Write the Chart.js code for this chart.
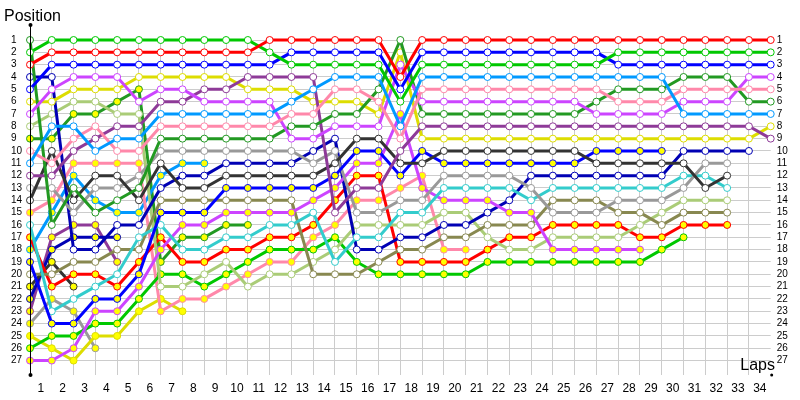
<!DOCTYPE html>
<html><head><meta charset="utf-8">
<script src="https://cdn.jsdelivr.net/npm/chart.js@4.4.1/dist/chart.umd.min.js"></script>
<style>html,body{margin:0;padding:0;background:#fff;}#wrap{width:800px;height:400px;position:relative;}</style>
</head><body><div id="wrap"><canvas id="c"></canvas></div>
<script>
// ---- data: tick labels ----
const lapLabels = [1,2,3,4,5,6,7,8,9,10,11,12,13,14,15,16,17,18,19,20,21,22,23,24,25,26,27,28,29,30,31,32,33,34];
const positions = [1,2,3,4,5,6,7,8,9,10,11,12,13,14,15,16,17,18,19,20,21,22,23,24,25,26,27];

// ---- data: position of each car at lap 0..34 (null = not running) ----
const R1  = [3,2,2,2,2,2,2,2,2,2,2,1,1,1,1,1,1,4,1,1,1,1,1,1,1,1,1,1,1,1,1,1,1,1,1];
const G1  = [2,1,1,1,1,1,1,1,1,1,1,2,3,3,3,3,3,6,3,3,3,3,3,3,3,3,3,2,2,2,2,2,2,2,2];
const B1  = [5,3,3,3,3,3,3,3,3,3,3,3,2,2,2,2,2,5,2,2,2,2,2,2,2,2,2,3,3,3,3,3,3,3,3];
const LB1 = [11,8,8,10,9,9,7,7,7,7,7,7,6,5,4,4,4,8,4,4,4,4,4,4,4,4,4,4,4,4,7,7,7,7,7];
const P1  = [10,11,9,8,10,10,8,8,8,8,8,8,7,7,5,5,6,9,5,5,5,5,5,5,5,5,5,6,6,6,5,5,5,5,5];
const M1  = [7,5,4,4,4,6,5,5,6,6,6,6,9,9,8,8,8,3,6,6,6,6,6,6,6,6,7,7,7,7,6,6,6,4,4];
const DG1 = [1,16,13,15,14,13,9,9,9,9,9,9,8,8,7,7,5,1,7,7,7,7,7,7,7,7,6,5,5,5,4,4,4,6,6];
const PU1 = [12,12,10,9,8,8,6,6,5,5,4,4,4,4,15,13,13,10,8,8,8,8,8,8,8,8,8,8,8,8,8,8,8,8,9];
const Y1  = [6,6,5,5,5,4,4,4,4,4,5,5,5,6,6,6,7,2,9,9,9,9,9,9,9,9,9,9,9,9,9,9,9,9,8];
const K1  = [14,10,14,12,12,14,11,13,13,12,12,12,12,12,11,9,9,11,11,10,10,10,10,10,10,10,11,11,11,11,11,13,12];
const B2  = [19,24,24,22,22,20,15,15,15,13,13,13,13,13,12,10,10,12,10,11,11,11,11,11,11,11,10,10,10,10];
const GR1 = [13,13,15,13,13,12,10,10,10,10,10,10,10,11,10,15,15,14,14,12,12,12,12,13,15,15,15,14,14,14,13,11,11];
const C1  = [16,23,22,21,20,17,16,18,18,17,17,16,16,15,19,17,17,15,15,13,13,13,13,14,13,13,13,13,13,13,12,12,13];
const M2  = [27,27,26,23,23,21,18,16,16,15,15,15,15,14,13,11,11,7,13,14,14,14,15,15,18,18,18,18,18];
const N1  = [4,4,18,18,16,16,13,12,12,11,11,11,11,10,9,18,18,17,17,16,16,15,14,12,12,12,12,12,12,12,10,10,10,10];
const O1  = [20,20,19,19,18,18,14,14,14,14,14,14,14,20,20,20,19,18,18,17,17,16,16,16,14,14,14,15,15,16,15,15,15];
const LG1 = [8,7,6,6,7,7,21,21,20,19,21,20,20,19,18,16,16,16,16,15,15,17,18,18,17,17,17,17,16,15,14,14,14];
const R2  = [17,21,20,20,21,19,17,19,19,18,18,17,17,16,14,12,12,19,19,19,19,18,17,17,16,16,16,16,17,17,16,16,16];
const G2  = [26,25,25,24,24,22,20,20,21,20,19,18,18,18,17,19,20,20,20,20,20,19,19,19,19,19,19,19,19,18,17];
const P2  = [15,14,11,11,11,11,23,22,22,21,20,19,19,17,16,14,14,13,12,18,18];
const LB2 = [18,15,12,14,15,15,12,11,11];
const DG2 = [9,9,7,7,6,5,19,17,17,16,16];
const Y2  = [25,26,27,25,25,23,22,23];
const K2  = [21,19,21];
const N2  = [22,18,17,17,17];
const PU2 = [23,17,16,16,19];
const GR2 = [24,22,23,26];

// ---- styles ----
const COL = {
  red:'#ff0000', green:'#00c800', blue:'#0000ff', lblue:'#0099ff', pink:'#ff88aa',
  magenta:'#cc44ff', dgreen:'#229922', purple:'#8e3a98', yellow:'#dddd00', black:'#333333',
  gray:'#999999', cyan:'#33cccc', navy:'#0000b4', olive:'#888850', lgreen:'#aacc77'
};
const WHITE = '#ffffff', YEL = '#ffff00';

const series = [
  [R1, COL.red, WHITE], [G1, COL.green, WHITE], [B1, COL.blue, WHITE], [LB1, COL.lblue, WHITE],
  [P1, COL.pink, WHITE], [M1, COL.magenta, WHITE], [DG1, COL.dgreen, WHITE], [PU1, COL.purple, WHITE],
  [Y1, COL.yellow, WHITE], [K1, COL.black, WHITE], [B2, COL.blue, YEL], [GR1, COL.gray, WHITE],
  [C1, COL.cyan, WHITE], [M2, COL.magenta, YEL], [N1, COL.navy, WHITE], [O1, COL.olive, WHITE],
  [LG1, COL.lgreen, WHITE], [R2, COL.red, YEL], [G2, COL.green, YEL], [P2, COL.pink, YEL],
  [LB2, COL.lblue, YEL], [DG2, COL.dgreen, YEL], [Y2, COL.yellow, YEL], [K2, COL.black, YEL],
  [N2, COL.navy, YEL], [PU2, COL.purple, YEL], [GR2, COL.gray, YEL]
];

const datasets = series.map(([arr, color, fill]) => ({
  data: arr.map((p, i) => ({x: i, y: p})).filter(d => d.y !== null),
  borderColor: color,
  backgroundColor: fill,
  pointBackgroundColor: fill,
  pointBorderColor: color,
  pointBorderWidth: 1,
  pointRadius: 3.5,
  pointHoverRadius: 3.5,
  borderWidth: 3,
  tension: 0,
  fill: false,
  clip: false
}));

const FONT = 'Liberation Sans, Arial, sans-serif';

const decor = {
  id: 'decor',
  afterDraw(chart) {
    const ctx = chart.ctx;
    const xs = chart.scales.x, ys = chart.scales.y;
    const x0 = xs.left;
    ctx.save();
    ctx.strokeStyle = '#000';
    ctx.lineWidth = 1;
    ctx.beginPath();
    ctx.moveTo(x0 + 0.5, 25);
    ctx.lineTo(x0 + 0.5, ys.bottom);
    ctx.stroke();
    ctx.fillStyle = '#000';
    ctx.beginPath(); ctx.arc(x0 + 0.5, 25, 2, 0, Math.PI * 2); ctx.fill();
    ctx.beginPath(); ctx.arc(x0 + 0.5, ys.bottom, 2, 0, Math.PI * 2); ctx.fill();
    ctx.beginPath(); ctx.arc(xs.right + 1, ys.bottom, 1.5, 0, Math.PI * 2); ctx.fill();
    ctx.font = '16px ' + FONT;
    ctx.textBaseline = 'alphabetic';
    ctx.textAlign = 'left';
    ctx.fillText('Position', 4, 21);
    ctx.textAlign = 'right';
    ctx.fillText('Laps', 775, 370);
    ctx.restore();
  }
};

new Chart(document.getElementById('c'), {
  type: 'line',
  data: { datasets },
  options: {
    responsive: true,
    maintainAspectRatio: false,
    animation: false,
    devicePixelRatio: 1,
    layout: { padding: { left: 11, top: 40, right: 0, bottom: 0 } },
    plugins: { legend: { display: false }, tooltip: { enabled: false } },
    events: [],
    scales: {
      x: {
        type: 'linear', min: 0, max: 34,
        afterBuildTicks(axis) {
          const t = [];
          lapLabels.forEach(L => { t.push({value: L - 0.5}); t.push({value: L}); });
          axis.ticks = t;
        },
        afterFit(axis) { axis.height = 25; },
        grid: {
          drawTicks: false,
          color: (c) => (c.tick && Number.isInteger(c.tick.value) && c.tick.value < 34) ? '#cccccc' : 'rgba(0,0,0,0)',
          lineWidth: 1
        },
        border: { display: false },
        ticks: {
          autoSkip: false, maxRotation: 0, minRotation: 0, padding: 6,
          color: '#000', font: { family: FONT, size: 12 },
          callback: (v) => Number.isInteger(v) ? '' : String(v + 0.5)
        }
      },
      y: {
        type: 'linear', reverse: true, min: 1, max: 28.17, position: 'left',
        afterBuildTicks(axis) { axis.ticks = positions.map(v => ({value: v})); },
        afterFit(axis) { axis.width = 19; },
        grid: { drawTicks: false, color: '#cccccc', lineWidth: 1 },
        border: { display: false },
        ticks: {
          autoSkip: false, crossAlign: 'far', padding: 0,
          color: '#000', font: { family: FONT, size: 10 },
          callback: (v) => String(v)
        }
      },
      y2: {
        type: 'linear', reverse: true, min: 1, max: 28.17, position: 'right',
        afterBuildTicks(axis) { axis.ticks = positions.map(v => ({value: v})); },
        afterFit(axis) { axis.width = 29.3; },
        grid: { display: false, drawTicks: false },
        border: { display: false },
        ticks: {
          autoSkip: false, crossAlign: 'near', padding: 6,
          color: '#000', font: { family: FONT, size: 10 },
          callback: (v) => String(v)
        }
      }
    }
  },
  plugins: [decor]
});
</script>
</body></html>
